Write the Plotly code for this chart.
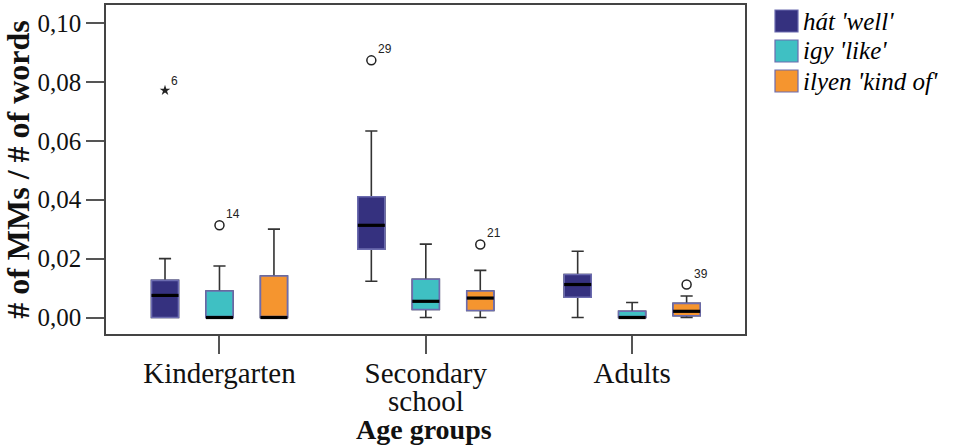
import plotly.graph_objects as go

# ---------------- data ----------------
groups = ["Kindergarten", "Secondary", "Adults"]
group_second_line = ["", "school", ""]
x_title = "Age groups"
y_title = "# of MMs / # of words"
series = ["hát 'well'", "igy 'like'", "ilyen 'kind of'"]
colors = ["#35317F", "#3FC0C3", "#F5952F"]

# box statistics per series, for [Kindergarten, Secondary school, Adults]
hat_low = [0.0, 0.0123, 0.0]
hat_q1 = [0.0, 0.0232, 0.0069]
hat_med = [0.0075, 0.0313, 0.0112]
hat_q3 = [0.0126, 0.0410, 0.0146]
hat_high = [0.0200, 0.0633, 0.0225]

igy_low = [0.0, 0.0, 0.0]
igy_q1 = [0.0, 0.0027, 0.0]
igy_med = [0.0, 0.0055, 0.0]
igy_q3 = [0.0090, 0.0130, 0.0021]
igy_high = [0.0175, 0.0249, 0.0051]

ilyen_low = [0.0, 0.0, 0.0]
ilyen_q1 = [0.0, 0.0024, 0.0006]
ilyen_med = [0.0, 0.0066, 0.0021]
ilyen_q3 = [0.0141, 0.0090, 0.0048]
ilyen_high = [0.0300, 0.0160, 0.0073]

# outliers
out_series = [0, 1, 0, 2, 2]          # index into series
out_group = [0, 0, 1, 1, 2]           # index into groups
out_value = [0.0771, 0.0313, 0.0873, 0.0248, 0.0112]
out_label = ["6", "14", "29", "21", "39"]
out_extreme = [True, False, False, False, False]

y_ticks = [0.0, 0.02, 0.04, 0.06, 0.08, 0.10]

stats = [
    (hat_low, hat_q1, hat_med, hat_q3, hat_high),
    (igy_low, igy_q1, igy_med, igy_q3, igy_high),
    (ilyen_low, ilyen_q1, ilyen_med, ilyen_q3, ilyen_high),
]

# ---------------- layout constants ----------------
W, H = 955, 447
ML, MR, MT, MB = 106, 210, 5, 113
offsets = [-0.264, 0.0, 0.264]
box_w = 0.131
serif = "Liberation Serif, Times New Roman, serif"
sans = "Liberation Sans, Arial, sans-serif"

fig = go.Figure()

for s, (lo, q1, med, q3, hi) in enumerate(stats):
    xs = [g + offsets[s] for g in range(len(groups))]
    # whiskers layer
    fig.add_trace(go.Box(
        x=xs, q1=q1, median=med, q3=q3, lowerfence=lo, upperfence=hi,
        width=box_w, whiskerwidth=0.45, fillcolor=colors[s],
        line=dict(color="#333333", width=1.6), boxpoints=False,
        showlegend=False, hoverinfo="skip",
    ))
    # box body layer with light outline
    fig.add_trace(go.Box(
        x=xs, q1=q1, median=med, q3=q3, lowerfence=q1, upperfence=q3,
        width=box_w, whiskerwidth=0, fillcolor=colors[s],
        line=dict(color="#6C6CB0", width=1.6), boxpoints=False,
        name=series[s], showlegend=False,
    ))
    # median lines
    mx, my = [], []
    for g, x in enumerate(xs):
        mx += [x - box_w / 2, x + box_w / 2, None]
        my += [med[g], med[g], None]
    fig.add_trace(go.Scatter(
        x=mx, y=my, mode="lines", line=dict(color="#000000", width=3.2),
        showlegend=False, hoverinfo="skip",
    ))

# outliers (markers)
annotations = []
for ext in (False, True):
    idx = [i for i in range(len(out_value)) if out_extreme[i] == ext]
    fig.add_trace(go.Scatter(
        x=[out_group[i] + offsets[out_series[i]] for i in idx],
        y=[out_value[i] for i in idx],
        mode="markers",
        marker=dict(
            symbol="star" if ext else "circle-open",
            size=8 if ext else 9,
            color="#222222",
            line=dict(color="#333333", width=1.5 if not ext else 0),
        ),
        showlegend=False,
    ))
# outlier case labels
for i in range(len(out_value)):
    annotations.append(dict(
        xref="x", yref="y", x=out_group[i] + offsets[out_series[i]], y=out_value[i],
        xanchor="left", yanchor="middle", xshift=4 if out_extreme[i] else 5,
        yshift=9 if out_extreme[i] else 11, showarrow=False,
        text=out_label[i], font=dict(family=sans, size=12, color="#222222"),
    ))


def px_x(p):
    return (p - ML) / (W - ML - MR)


def px_y(p):
    return (H - MB - p) / (H - MT - MB)


shapes = []

# manual legend
leg_rows = [21, 51, 81]
for s, yc in enumerate(leg_rows):
    shapes.append(dict(
        type="rect", xref="paper", yref="paper",
        x0=px_x(775), x1=px_x(798), y0=px_y(yc - 11), y1=px_y(yc + 11),
        fillcolor=colors[s], line=dict(color="#6C6CB0", width=1.2),
    ))
    annotations.append(dict(
        xref="paper", yref="paper", x=px_x(801), y=px_y(yc),
        xanchor="left", yanchor="middle", showarrow=False,
        text=series[s],
        font=dict(family=serif, size=25, color="#000000", style="italic"),
    ))

# second line of category labels
for g, t in enumerate(group_second_line):
    if t:
        annotations.append(dict(
            xref="x", yref="paper", x=g, y=px_y(401),
            xanchor="center", yanchor="middle", showarrow=False,
            text=t, font=dict(family=serif, size=29, color="#111111"),
        ))

# x axis title
annotations.append(dict(
    xref="paper", yref="paper", x=px_x(423.5), y=px_y(429),
    xanchor="center", yanchor="middle", showarrow=False,
    text="<b>" + x_title + "</b>", font=dict(family=serif, size=28, color="#111111"),
))

fig.update_layout(
    width=W, height=H,
    margin=dict(l=ML, r=MR, t=MT, b=MB, autoexpand=False),
    paper_bgcolor="white", plot_bgcolor="white",
    separators=",.",
    boxmode="overlay",
    shapes=shapes, annotations=annotations,
    showlegend=False,
)

fig.update_xaxes(
    range=[-0.55, 2.547], tickvals=list(range(len(groups))), ticktext=groups,
    tickfont=dict(family=serif, size=29, color="#111111"),
    ticks="outside", ticklen=18, tickwidth=1.5, tickcolor="#555555",
    ticklabelstandoff=-6,
    showline=True, mirror=True, linecolor="#444444", linewidth=1.5,
    showgrid=False, zeroline=False, automargin=False,
)
fig.update_yaxes(
    range=[-0.0056, 0.1061], tickvals=y_ticks, tickformat=".2f",
    tickfont=dict(family=serif, size=25, color="#111111"),
    ticks="outside", ticklen=18, tickwidth=1.5, tickcolor="#555555",
    showline=True, mirror=True, linecolor="#444444", linewidth=1.5,
    showgrid=False, zeroline=False, automargin=False,
    title=dict(text="<b>" + y_title + "</b>", font=dict(family=serif, size=32, color="#111111"), standoff=0),
)

fig.write_html("out.html", config={"displayModeBar": False},
               post_script="document.body.style.margin='0';")
